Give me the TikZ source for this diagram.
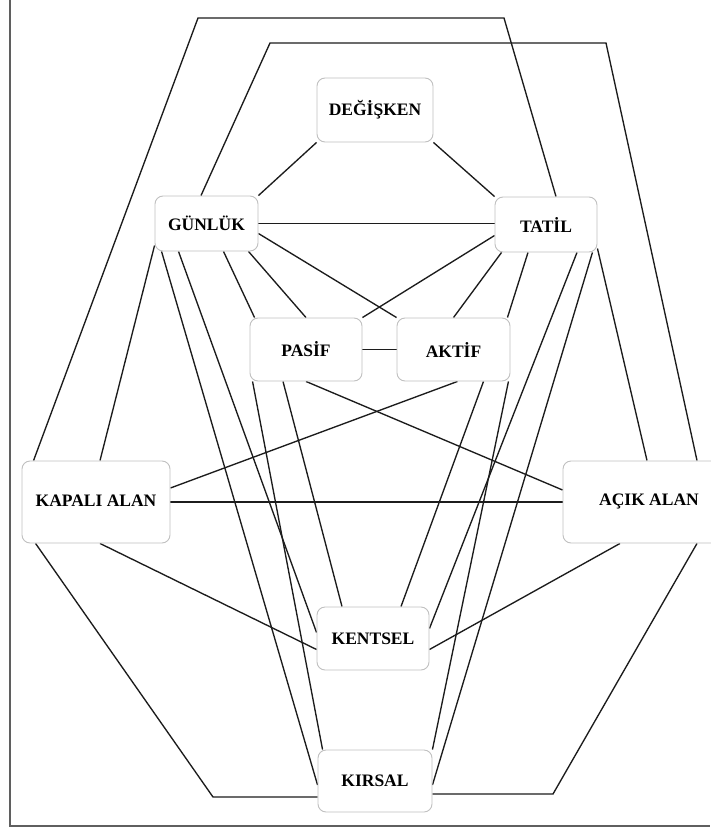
\documentclass[tikz,border=0pt]{standalone}
\usepackage{fontspec}
\setmainfont{Liberation Serif}
\definecolor{rim}{RGB}{192,192,192}
\definecolor{ink}{RGB}{28,28,28}
\definecolor{soft}{RGB}{95,95,95}
\usetikzlibrary{positioning,backgrounds,calc}
\tikzset{
  box/.style={draw=rim, rounded corners=8pt, fill=white, line width=0.9pt,
              inner sep=0pt, align=center, font=\fontsize{17.5}{19}\selectfont\bfseries},
  link/.style={draw=ink, line width=1.35pt, line join=miter},
  pageline/.style={draw=soft, line width=1.4pt},
}

\begin{document}
\begin{tikzpicture}[x=1pt, y=-1pt]
  \useasboundingbox (0,0) rectangle (710,832);
  \draw[pageline] (10,0) -- (10,826) -- (710,826);

  % boxes
  \node[box, minimum width=116pt, minimum height=64pt] (deg)  at (375,110)   {\raisebox{-4pt}{DEĞİŞKEN}};
  \node[box, minimum width=103pt, minimum height=55pt] (gun)  at (206.5,223.5) {GÜNLÜK};
  \node[box, minimum width=102pt, minimum height=55pt] (tat)  at (546,224.5) {\raisebox{-3pt}{TATİL}};
  \node[box, minimum width=112pt, minimum height=63pt] (pas)  at (306,349.5) {PASİF};
  \node[box, minimum width=113pt, minimum height=63pt] (akt)  at (453.5,349.5) {AKTİF};
  \node[box, minimum width=148pt, minimum height=82pt] (kap)  at (96,502)    {\raisebox{3pt}{KAPALI ALAN}};
  \node[box, minimum width=172pt, minimum height=82pt] (acik) at (649,502)   {\raisebox{3pt}{AÇIK ALAN}};
  \node[box, minimum width=112pt, minimum height=63pt] (ken)  at (373,638.5) {KENTSEL};
  \node[box, minimum width=114pt, minimum height=62pt] (kir)  at (375,781)   {KIRSAL};

  % bends of the long paths
  \coordinate (o1) at (198,18);  \coordinate (o2) at (504,18);
  \coordinate (i1) at (270,43);  \coordinate (i2) at (606,43);
  \coordinate (b1) at (213,797); \coordinate (b2) at (553,794);

  \begin{scope}[on background layer]
    \draw[link] (deg.south west) -- (gun.north east);
    \draw[link] (deg.south east) -- (tat.north west);
    \draw[link] (gun.east) -- (gun.east -| tat.west);
    \draw[link] ([yshift=-10pt]gun.east) -- (akt.north west);
    \draw[link] ([yshift=-11pt]tat.west) -- (pas.north east);
    \draw[link] ([xshift=42pt]gun.south) -- (pas.north);
    \draw[link] ([xshift=17pt]gun.south) -- ([xshift=5pt]pas.north west);
    \draw[link] ([yshift=6pt]gun.south west) -- ([xshift=4pt]kap.north);
    \draw[link] ([xshift=7pt]gun.south west) -- ([yshift=-4pt]kir.west);
    \draw[link] ([xshift=-28pt]gun.south) -- ([yshift=6pt]ken.west);
    \draw[link] ([xshift=7pt]tat.south west) -- (akt.north);
    \draw[link] ([xshift=-18pt]tat.south) -- ([xshift=-3pt]akt.north east);
    \draw[link] ([xshift=31pt]tat.south) -- ([yshift=10pt]ken.east);
    \draw[link] ([xshift=-5pt]tat.south east) -- ([yshift=-4pt]kir.east);
    \draw[link] ([yshift=4pt]tat.south east) -- ([xshift=-2pt]acik.north);
    \draw[link] (pas.east) -- (akt.west);
    \draw[link] ([xshift=-23pt]pas.south) -- ([xshift=-31pt]ken.north);
    \draw[link] ([xshift=3pt]pas.south west) -- ([xshift=5pt]kir.north west);
    \draw[link] (pas.south) -- ([yshift=12pt]acik.west);
    \draw[link] ([xshift=4pt]akt.south) -- ([yshift=14pt]kap.east);
    \draw[link] ([xshift=30pt]akt.south) -- ([xshift=28pt]ken.north);
    \draw[link] ([xshift=-2pt]akt.south east) -- (kir.north east);
    \draw[link] (kap.east) -- (acik.west);
    \draw[link] ([xshift=4pt]kap.south) -- ([yshift=-11pt]ken.west);
    \draw[link] ([xshift=-29pt]acik.south) -- ([yshift=-11pt]ken.east);
    % outer loops
    \draw[link] ([xshift=12pt]kap.north west) -- (o1) -- (o2) -- ([xshift=10pt]tat.north);
    \draw[link] ([xshift=-5.5pt]gun.north) -- (i1) -- (i2) -- ([xshift=48pt]acik.north);
    \draw[link] ([xshift=14pt]kap.south west) -- (b1) -- (b1 -| kir.west);
    \draw[link] ([xshift=48pt]acik.south) -- (b2) -- (b2 -| kir.east);
  \end{scope}
\end{tikzpicture}
\end{document}
